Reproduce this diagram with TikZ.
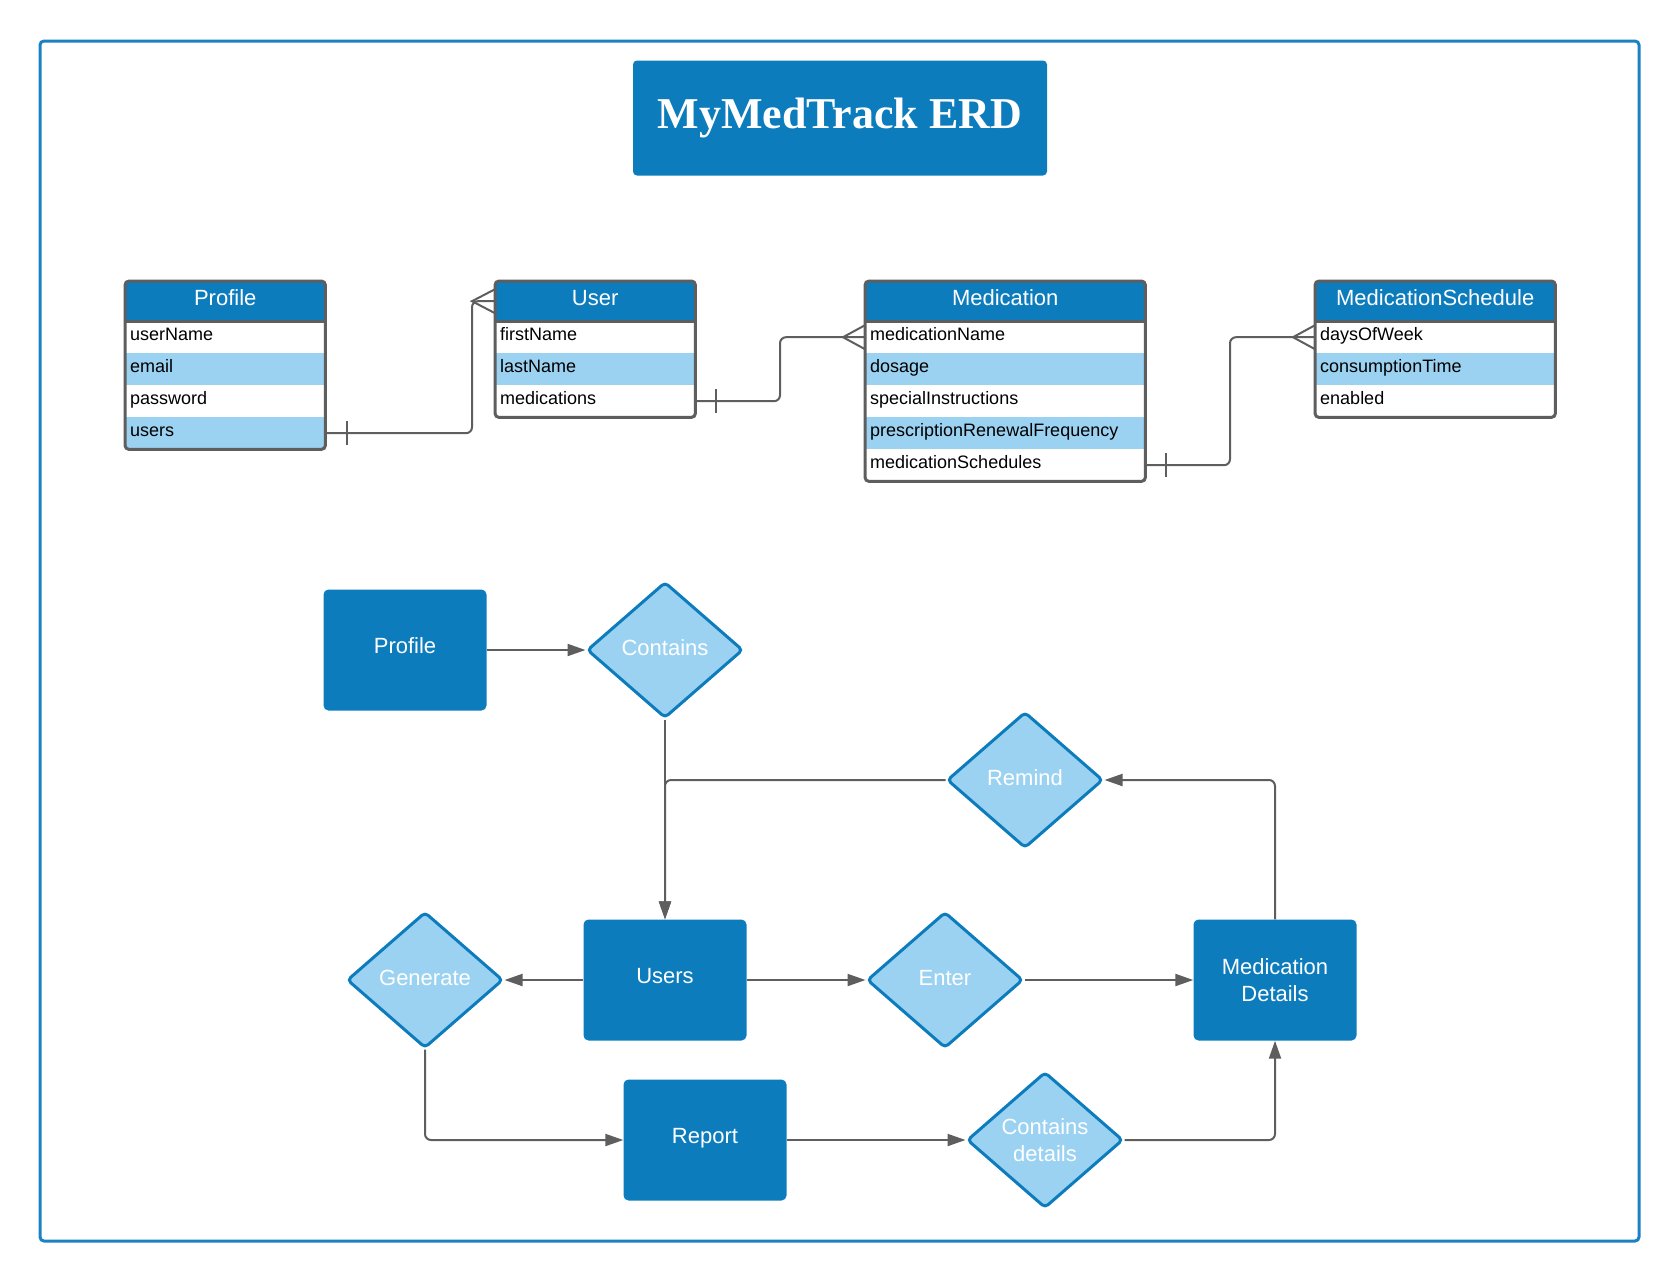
\documentclass[tikz,border=0pt]{standalone}
\usepackage{fontspec}
\setmainfont{Liberation Sans}
\newfontfamily\titlefont{Liberation Serif}
\usetikzlibrary{arrows.meta,shapes.geometric}
\definecolor{H}{RGB}{13,124,189}
\definecolor{L}{RGB}{155,210,242}
\definecolor{D}{RGB}{94,94,94}
\definecolor{F}{RGB}{27,128,196}

\begin{document}
\begin{tikzpicture}[x=1pt,y=-1pt,
  hdrcell/.style={anchor=north west, fill=H, text=white, minimum width=#1, minimum height=40, inner sep=0, text height=16, text depth=7.7, font=\fontsize{22}{26}\selectfont},
  rowcell/.style={anchor=north west, text width=#1, inner xsep=5, inner ysep=0, minimum height=32, text height=13, text depth=6.5, align=left, font=\fontsize{18}{21}\selectfont},
  tbl/.style={draw=D, line width=3},
  erd/.style={draw=D, line width=2},
  ent/.style={fill=H, rounded corners=5, minimum width=163, minimum height=121, text=white, align=center, text height=16, text depth=9.6, font=\fontsize{22}{27}\selectfont},
  rel/.style={diamond, fill=L, draw=H, line width=3, rounded corners=4, minimum width=156, minimum height=136, inner sep=0, text=white, align=center, text height=16, text depth=4.2, font=\fontsize{22}{27}\selectfont},
  twolines/.style={text height={}, text depth={}},
  flow/.style={draw=D, line width=2, -{Triangle[length=18pt,width=12pt]}}]
  \useasboundingbox (0,0) rectangle (1680,1280);
  \draw[F, line width=3, rounded corners=4] (40,41) rectangle (1639,1241);
  \node[fill=H, rounded corners=4, minimum width=414, minimum height=115, text=white, font=\titlefont\bfseries\fontsize{44}{50}\selectfont] (title) at (840,118) {MyMedTrack ERD};

  % tables
  \node[hdrcell=200] (profileH) at (125,281) {Profile};
  \foreach \i/\t/\c in {1/userName/white, 2/email/L, 3/password/white, 4/users/L}
    \node[rowcell=190, fill=\c] (profile-\i) at (125,{289+32*\i}) {\t};
  \draw[tbl] (profileH.south west) -- (profileH.south east);
  \draw[tbl, rounded corners=4] (profileH.north west) rectangle (profile-4.south east);

  \node[hdrcell=200] (userH) at (495,281) {User};
  \foreach \i/\t/\c in {1/firstName/white, 2/lastName/L, 3/medications/white}
    \node[rowcell=190, fill=\c] (user-\i) at (495,{289+32*\i}) {\t};
  \draw[tbl] (userH.south west) -- (userH.south east);
  \draw[tbl, rounded corners=4] (userH.north west) rectangle (user-3.south east);

  \node[hdrcell=280] (medH) at (865,281) {Medication};
  \foreach \i/\t/\c in {1/medicationName/white, 2/dosage/L, 3/specialInstructions/white, 4/prescriptionRenewalFrequency/L, 5/medicationSchedules/white}
    \node[rowcell=270, fill=\c] (med-\i) at (865,{289+32*\i}) {\t};
  \draw[tbl] (medH.south west) -- (medH.south east);
  \draw[tbl, rounded corners=4] (medH.north west) rectangle (med-5.south east);

  \node[hdrcell=240] (schedH) at (1315,281) {MedicationSchedule};
  \foreach \i/\t/\c in {1/daysOfWeek/white, 2/consumptionTime/L, 3/enabled/white}
    \node[rowcell=230, fill=\c] (sched-\i) at (1315,{289+32*\i}) {\t};
  \draw[tbl] (schedH.south west) -- (schedH.south east);
  \draw[tbl, rounded corners=4] (schedH.north west) rectangle (sched-3.south east);

  % relations between tables
  \draw[erd, rounded corners=6] (profile-4.east) -| ([xshift=-23]userH.west) -- (userH.west);
  \draw[erd] ([xshift=22,yshift=-12]profile-4.east) -- ([xshift=22,yshift=12]profile-4.east);
  \draw[erd] ([yshift=12]userH.west) -- ([xshift=-23]userH.west) -- ([yshift=-12]userH.west);

  \draw[erd, rounded corners=6] (user-3.east) -| ([xshift=-85]med-1.west) -- (med-1.west);
  \draw[erd] ([xshift=21,yshift=-12]user-3.east) -- ([xshift=21,yshift=12]user-3.east);
  \draw[erd] ([yshift=12]med-1.west) -- ([xshift=-22]med-1.west) -- ([yshift=-12]med-1.west);

  \draw[erd, rounded corners=6] (med-5.east) -| ([xshift=-85]sched-1.west) -- (sched-1.west);
  \draw[erd] ([xshift=21,yshift=-12]med-5.east) -- ([xshift=21,yshift=12]med-5.east);
  \draw[erd] ([yshift=12]sched-1.west) -- ([xshift=-22]sched-1.west) -- ([yshift=-12]sched-1.west);

  % flow
  \node[ent] (profileB) at (405,650) {Profile};
  \node[rel] (contains) at (665,650) {Contains};
  \node[rel] (remind) at (1025,780) {Remind};
  \node[ent] (users) at (665,980) {Users};
  \node[rel] (generate) at (425,980) {Generate};
  \node[rel] (enter) at (945,980) {Enter};
  \node[ent, twolines] (details) at (1275,980) {Medication\\Details};
  \node[ent] (report) at (705,1140) {Report};
  \node[rel, twolines] (cdetails) at (1045,1140) {Contains\\details};

  \draw[flow] (profileB) -- (contains);
  \draw[flow] (contains) -- (users);
  \draw[flow, rounded corners=6] (remind.west) -| (users.north);
  \draw[flow, rounded corners=6] (details.north) |- (remind.east);
  \draw[flow] (users) -- (generate);
  \draw[flow] (users) -- (enter);
  \draw[flow] (enter) -- (details);
  \draw[flow, rounded corners=6] (generate.south) |- (report.west);
  \draw[flow] (report) -- (cdetails);
  \draw[flow, rounded corners=6] (cdetails.east) -| (details.south);
\end{tikzpicture}
\end{document}
